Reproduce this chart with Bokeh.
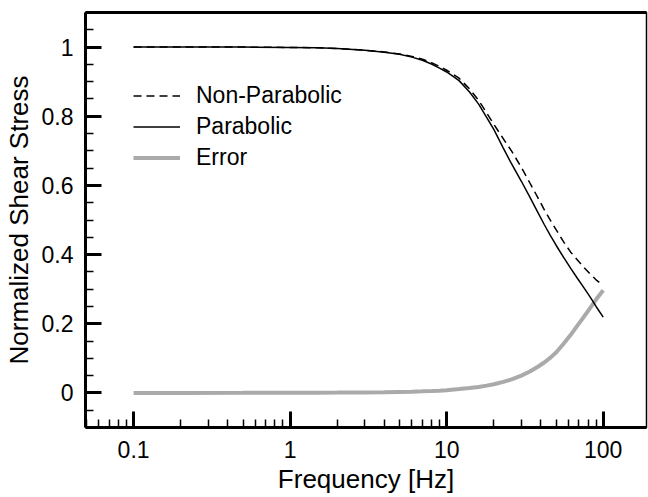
from bokeh.plotting import figure
from bokeh.models import FixedTicker, LogAxis, Legend, LegendItem, Range1d
from bokeh.embed import file_html
from bokeh.resources import INLINE

# ---- data ----
freq = [0.1, 0.2, 0.5, 1, 1.5, 2, 3, 4, 5, 6, 7, 8, 9, 10, 12, 14, 16, 18, 20, 23, 26,
        30, 34, 38, 42, 46, 50, 56, 62, 68, 75, 82, 90, 100]
parabolic = [1.0, 1.0, 1.0, 0.999, 0.998, 0.996, 0.991, 0.985, 0.979, 0.971, 0.962, 0.951,
             0.939, 0.928, 0.903, 0.870, 0.835, 0.797, 0.762, 0.708, 0.662, 0.612, 0.566,
             0.524, 0.487, 0.455, 0.427, 0.391, 0.360, 0.333, 0.305, 0.279, 0.250, 0.219]
non_parabolic = [1.0, 1.0, 1.0, 0.999, 0.998, 0.996, 0.991, 0.986, 0.980, 0.973, 0.965, 0.955,
                 0.944, 0.933, 0.910, 0.879, 0.846, 0.810, 0.777, 0.735, 0.699, 0.652, 0.607,
                 0.567, 0.530, 0.499, 0.472, 0.436, 0.407, 0.386, 0.364, 0.345, 0.327, 0.311]
error = [0.0, 0.0, 0.0002, 0.0005, 0.0008, 0.001, 0.0015, 0.002, 0.003, 0.0035, 0.0045, 0.0055,
         0.0065, 0.008, 0.011, 0.014, 0.017, 0.021, 0.025, 0.032, 0.039, 0.050, 0.062,
         0.075, 0.088, 0.102, 0.117, 0.143, 0.168, 0.193, 0.219, 0.244, 0.270, 0.297]

x_major = [0.1, 1, 10, 100]
x_labels = ["0.1", "1", "10", "100"]
y_major = [0, 0.2, 0.4, 0.6, 0.8, 1]
y_labels = ["0", "0.2", "0.4", "0.6", "0.8", "1"]

FONT = "Liberation Sans"

p = figure(width=648, height=497, x_axis_type="log",
           x_range=Range1d(0.0493, 189), y_range=Range1d(-0.1, 1.1),
           output_backend="svg", toolbar_location=None,
           min_border_left=85, min_border_right=2, min_border_top=12, min_border_bottom=70)
p.grid.visible = False
p.outline_line_color = "black"
p.outline_line_width = 1.5
p.background_fill_color = "white"
p.border_fill_color = "white"

x_minor = []
for dec in [0.01, 0.1, 1, 10, 100]:
    for m in range(2, 10):
        x_minor.append(m * dec)
y_minor = [round(-0.05 + 0.05 * i, 2) for i in range(0, 24)]

xa = p.xaxis[0]
xa.ticker = FixedTicker(ticks=x_major, minor_ticks=x_minor)
xa.major_label_overrides = {float(t): l for t, l in zip(x_major, x_labels)}
ya = p.yaxis[0]
ya.ticker = FixedTicker(ticks=y_major, minor_ticks=y_minor)
ya.major_label_overrides = {float(t): l for t, l in zip(y_major, y_labels)}

for ax in (xa, ya):
    ax.axis_line_width = 3
    ax.axis_line_color = "black"
    ax.major_tick_in = 16
    ax.major_tick_out = 0
    ax.minor_tick_in = 8
    ax.minor_tick_out = 0
    ax.major_tick_line_width = 3
    ax.minor_tick_line_width = 1.5
    ax.major_label_text_font = FONT
    ax.major_label_text_font_size = "23px"
    ax.major_label_text_color = "black"
    ax.axis_label_text_font = FONT
    ax.axis_label_text_font_size = "26px"
    ax.axis_label_text_font_style = "normal"
    ax.axis_label_text_color = "black"

xa.axis_label = "Frequency [Hz]"
ya.axis_label = "Normalized Shear Stress"
xa.major_label_standoff = 13
xa.axis_label_standoff = 3
ya.major_label_standoff = 12
ya.axis_label_standoff = 5

top = LogAxis(ticker=FixedTicker(ticks=[]), axis_line_width=3,
              major_tick_in=0, major_tick_out=0, minor_tick_in=0, minor_tick_out=0,
              major_label_text_font_size="0px")
p.add_layout(top, "above")

r_err = p.line(freq, error, line_color="#aaaaaa", line_width=4)
r_non = p.line(freq, non_parabolic, line_color="black", line_width=1.5, line_dash="8 5")
r_par = p.line(freq, parabolic, line_color="black", line_width=1.5)

legend = Legend(items=[LegendItem(label="Non-Parabolic", renderers=[r_non]),
                       LegendItem(label="Parabolic", renderers=[r_par]),
                       LegendItem(label="Error", renderers=[r_err])],
                location=(48, 254), border_line_color=None, background_fill_alpha=0,
                padding=0, margin=0, spacing=0, glyph_width=47, glyph_height=31,
                label_height=31, label_standoff=16, label_text_color="black",
                label_text_font=FONT, label_text_font_size="23px")
p.add_layout(legend, "center")

open("out.html", "w").write(file_html(p, INLINE))
